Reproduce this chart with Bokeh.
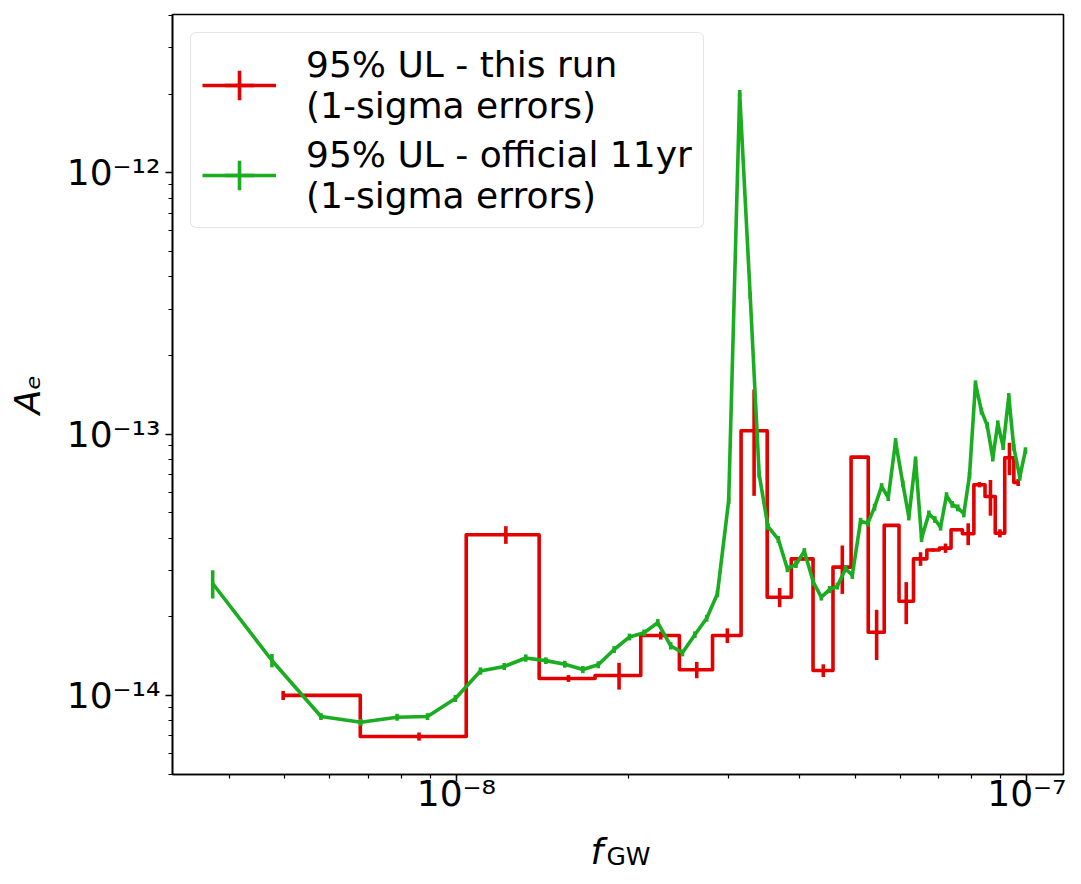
import numpy as np
from bokeh.plotting import figure
from bokeh.models import (Range1d, FixedTicker, CustomJSTickFormatter, Legend,
                          LegendItem, Label)
from bokeh.embed import file_html
from bokeh.resources import INLINE

# ---------------- data ----------------
# "this run" 95% upper limits (drawn as a mid-step line) with 1-sigma errors
red_freq = [4.97e-9, 8.60e-9, 12.21e-9, 15.72e-9, 19.28e-9, 22.81e-9, 26.38e-9,
            29.85e-9, 33.25e-9, 36.86e-9, 40.40e-9, 43.96e-9, 47.47e-9, 50.89e-9,
            54.52e-9, 57.91e-9, 61.44e-9, 65.09e-9, 68.46e-9, 71.99e-9, 75.26e-9,
            78.89e-9, 82.56e-9, 86.31e-9, 89.67e-9, 93.19e-9, 96.52e-9]
red_ul = [1.00e-14, 0.696e-14, 4.12e-14, 1.161e-14, 1.192e-14, 1.695e-14, 1.253e-14,
          1.695e-14, 10.3e-14, 2.375e-14, 3.33e-14, 1.245e-14, 3.095e-14, 8.16e-14,
          1.745e-14, 4.47e-14, 2.293e-14, 3.33e-14, 3.60e-14, 3.66e-14, 4.30e-14,
          4.155e-14, 6.40e-14, 5.77e-14, 4.17e-14, 8.11e-14, 6.53e-14]
red_err = [0.04e-14, 0.025e-14, 0.32e-14, 0.035e-14, 0.14e-14, 0.06e-14, 0.09e-14,
           0.11e-14, 4.5e-14, 0.2e-14, 0.05e-14, 0.07e-14, 0.65e-14, 0.1e-14,
           0.38e-14, 0.05e-14, 0.42e-14, 0.2e-14, 0.05e-14, 0.15e-14, 0.05e-14,
           0.4e-14, 0.15e-14, 0.9e-14, 0.15e-14, 1.15e-14, 0.2e-14]

# official 11yr 95% upper limits with 1-sigma errors
green_freq = [3.74e-9, 4.75e-9, 5.79e-9, 6.80e-9, 7.87e-9, 8.90e-9, 9.96e-9,
              11.02e-9, 12.13e-9, 13.23e-9, 14.35e-9, 15.49e-9, 16.66e-9, 17.73e-9,
              18.90e-9, 20.11e-9, 21.33e-9, 22.54e-9, 23.75e-9, 24.90e-9, 26.18e-9,
              27.46e-9, 28.67e-9, 30.01e-9, 31.37e-9, 32.73e-9, 33.94e-9, 35.16e-9,
              36.67e-9, 38.03e-9, 39.37e-9, 40.72e-9, 42.24e-9, 43.61e-9, 45.09e-9,
              46.54e-9, 48.10e-9, 49.42e-9, 51.10e-9, 52.63e-9, 54.07e-9, 55.62e-9,
              57.14e-9, 58.85e-9, 60.61e-9, 62.09e-9, 63.79e-9, 65.36e-9, 67.31e-9,
              68.96e-9, 70.56e-9, 72.28e-9, 73.96e-9, 75.65e-9, 77.51e-9, 79.31e-9,
              81.25e-9, 83.24e-9, 85.18e-9, 87.12e-9, 88.90e-9, 90.86e-9, 92.93e-9,
              94.82e-9, 97.15e-9, 99.40e-9]
green_ul = [2.68e-14, 1.36e-14, 0.830e-14, 0.789e-14, 0.825e-14, 0.830e-14, 0.973e-14,
            1.24e-14, 1.29e-14, 1.39e-14, 1.358e-14, 1.316e-14, 1.256e-14, 1.31e-14,
            1.498e-14, 1.673e-14, 1.736e-14, 1.898e-14, 1.548e-14, 1.455e-14, 1.707e-14,
            1.973e-14, 2.444e-14, 5.57e-14, 201e-14, 33.9e-14, 7.00e-14, 4.43e-14,
            3.95e-14, 3.05e-14, 3.17e-14, 3.56e-14, 2.71e-14, 2.375e-14, 2.54e-14,
            2.62e-14, 3.05e-14, 2.88e-14, 4.64e-14, 4.56e-14, 5.25e-14, 6.30e-14,
            5.71e-14, 9.37e-14, 6.45e-14, 4.81e-14, 7.97e-14, 3.98e-14, 4.95e-14,
            4.71e-14, 4.40e-14, 5.82e-14, 5.38e-14, 5.22e-14, 4.95e-14, 6.94e-14,
            15.58e-14, 12.24e-14, 10.79e-14, 8.09e-14, 10.95e-14, 8.96e-14, 13.93e-14,
            8.91e-14, 6.84e-14, 8.65e-14]
green_err = [0.33e-14, 0.08e-14, 0.025e-14, 0.024e-14, 0.025e-14, 0.025e-14, 0.03e-14,
             0.04e-14, 0.04e-14, 0.045e-14, 0.04e-14, 0.04e-14, 0.04e-14, 0.04e-14,
             0.045e-14, 0.05e-14, 0.05e-14, 0.06e-14, 0.05e-14, 0.045e-14, 0.05e-14,
             0.06e-14, 0.07e-14, 0.17e-14, 6e-14, 1.0e-14, 0.2e-14, 0.13e-14,
             0.12e-14, 0.09e-14, 0.1e-14, 0.1e-14, 0.08e-14, 0.07e-14, 0.08e-14,
             0.08e-14, 0.09e-14, 0.09e-14, 0.14e-14, 0.14e-14, 0.16e-14, 0.19e-14,
             0.17e-14, 0.28e-14, 0.19e-14, 0.14e-14, 0.24e-14, 0.12e-14, 0.15e-14,
             0.14e-14, 0.13e-14, 0.17e-14, 0.16e-14, 0.16e-14, 0.15e-14, 0.21e-14,
             0.47e-14, 0.37e-14, 0.32e-14, 0.24e-14, 0.33e-14, 0.27e-14, 0.42e-14,
             0.27e-14, 0.21e-14, 0.26e-14]

red_label = "95% UL - this run\n(1-sigma errors)"
green_label = "95% UL - official 11yr\n(1-sigma errors)"
x_title = ("f", "GW")   # italic symbol, upright subscript
y_title = "A\u2091"     # A with subscript e

RED = "#e30000"
GREEN = "#19ad1f"
LW = 3.6
FONT = "DejaVu Sans"


def steps_mid(x, y):
    """Vertices of a mid-step line (midpoints in data space, like steps-mid)."""
    xs, ys = [x[0]], [y[0]]
    for i in range(len(x) - 1):
        m = 0.5 * (x[i] + x[i + 1])
        xs += [m, m]
        ys += [y[i], y[i + 1]]
    xs.append(x[-1])
    ys.append(y[-1])
    return xs, ys


p = figure(frame_width=891, frame_height=760, x_axis_type="log", y_axis_type="log",
           x_range=Range1d(3.18e-9, 1.159e-7), y_range=Range1d(4.98e-15, 4.03e-12),
           output_backend="svg", toolbar_location=None,
           min_border_left=172, min_border_right=10, min_border_top=14,
           min_border_bottom=60)
p.background_fill_color = "white"
p.border_fill_color = "white"
p.xgrid.grid_line_color = None
p.ygrid.grid_line_color = None
p.outline_line_color = "black"
p.outline_line_width = 1.6

# ---- red: mid-step line + error bars
rx, ry = steps_mid(red_freq, red_ul)
red_line = p.line(rx, ry, line_color=RED, line_width=LW, line_join="round")
p.segment(x0=red_freq, y0=[u - e for u, e in zip(red_ul, red_err)],
          x1=red_freq, y1=[u + e for u, e in zip(red_ul, red_err)],
          line_color=RED, line_width=LW)
# legend-only marker (errorbar tick in the legend symbol); NaN keeps it off the plot
red_tick = p.scatter(x=[np.nan], y=[np.nan], marker="cross", size=30,
                     line_color=RED, line_width=LW)

# ---- green: plain line + error bars
green_line = p.line(green_freq, green_ul, line_color=GREEN, line_width=LW,
                    line_join="round")
p.segment(x0=green_freq, y0=[u - e for u, e in zip(green_ul, green_err)],
          x1=green_freq, y1=[u + e for u, e in zip(green_ul, green_err)],
          line_color=GREEN, line_width=LW)
green_tick = p.scatter(x=[np.nan], y=[np.nan], marker="cross", size=30,
                       line_color=GREEN, line_width=LW)

# ---- axes
def minor_ticks(lo, hi):
    out = []
    for d in range(lo, hi):
        for m in range(2, 10):
            out.append(m * 10.0 ** d)
    return out

p.xaxis.ticker = FixedTicker(ticks=[1e-9, 1e-8, 1e-7, 1e-6], minor_ticks=minor_ticks(-10, -6))
p.yaxis.ticker = FixedTicker(ticks=[1e-15, 1e-14, 1e-13, 1e-12, 1e-11],
                             minor_ticks=minor_ticks(-16, -11))
fmt_code = """
const e = Math.round(Math.log10(tick));
const sup = {"-": "\u207b", "0": "\u2070", "1": "\u00b9", "2": "\u00b2", "3": "\u00b3",
             "4": "\u2074", "5": "\u2075", "6": "\u2076", "7": "\u2077", "8": "\u2078",
             "9": "\u2079"};
return "10" + String(e).split("").map(c => sup[c]).join("");
"""
for ax in (p.xaxis, p.yaxis):
    ax.formatter = CustomJSTickFormatter(code=fmt_code)
    ax.major_tick_out = 7
    ax.major_tick_in = 0
    ax.minor_tick_out = 4
    ax.minor_tick_in = 0
    ax.major_tick_line_width = 1.6
    ax.minor_tick_line_width = 1.2
    ax.axis_line_width = 1.6
    ax.axis_line_color = "black"
    ax.major_tick_line_color = "black"
    ax.minor_tick_line_color = "black"
    ax.major_label_text_font = FONT
    ax.major_label_text_font_size = "36px"
    ax.major_label_text_color = "black"
p.yaxis.major_label_standoff = 5
p.xaxis.major_label_standoff = -9

# ---- y-axis title
p.yaxis.axis_label = y_title
p.yaxis.axis_label_text_font = FONT
p.yaxis.axis_label_text_font_size = "36px"
p.yaxis.axis_label_text_font_style = "italic"
p.yaxis.axis_label_text_color = "black"
p.yaxis.axis_label_standoff = 16

# ---- x-axis title: labels in the panel below the axis (not clipped to the frame)
p.add_layout(Label(x=418, y=6, x_units="screen", y_units="screen", text=x_title[0],
                   text_font=FONT, text_font_size="36px", text_font_style="italic",
                   text_baseline="alphabetic", text_align="left", text_color="black"),
             "below")
p.add_layout(Label(x=434, y=30, x_units="screen", y_units="screen", text=x_title[1],
                   text_font=FONT, text_font_size="25px",
                   text_baseline="alphabetic", text_align="left", text_color="black"),
             "below")

# ---- legend
legend = Legend(items=[LegendItem(label=red_label, renderers=[red_line, red_tick]),
                       LegendItem(label=green_label, renderers=[green_line, green_tick])],
                location="top_left", margin=18, padding=11, spacing=8,
                glyph_width=74, glyph_height=76, label_standoff=30,
                label_text_font=FONT, label_text_font_size="36px",
                label_text_line_height=1.0, label_text_color="black",
                border_line_color="#cccccc", border_line_width=1.3,
                background_fill_color="white", background_fill_alpha=0.8)
if "border_radius" in Legend.properties():
    legend.border_radius = 6
p.add_layout(legend)

open("out.html", "w").write(file_html(p, INLINE))
